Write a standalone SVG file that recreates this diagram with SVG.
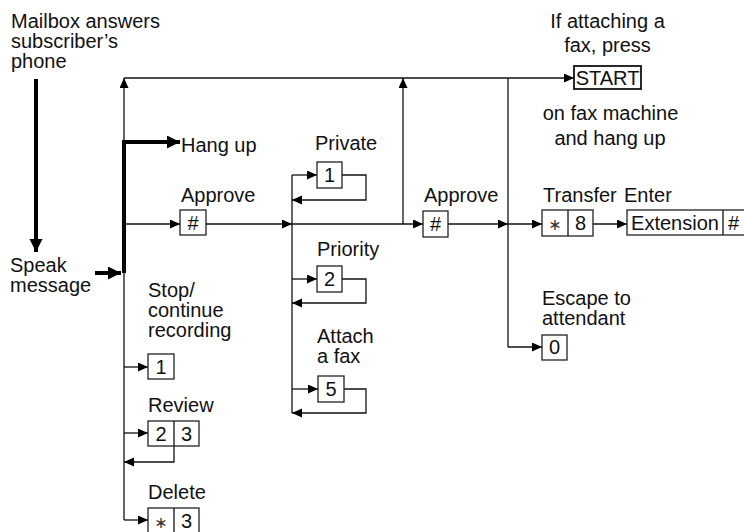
<svg xmlns="http://www.w3.org/2000/svg" width="744" height="532" viewBox="0 0 744 532">
<style>
text{font-family:"Liberation Sans",Arial,"DejaVu Sans",sans-serif;font-size:20px;fill:#111}
.c{text-anchor:middle}
.ast{font-family:"DejaVu Sans",sans-serif;font-size:16px;fill:#333}
.box{fill:#fff;stroke:#222;stroke-width:1.3}
.ln{fill:none;stroke:#111;stroke-width:1.3}
.th{fill:none;stroke:#000;stroke-width:4}
.ar{marker-end:url(#a)}
.at{marker-end:url(#ta)}
</style>
<defs>
<marker id="a" markerUnits="userSpaceOnUse" markerWidth="11" markerHeight="10" refX="10" refY="4.5" orient="auto"><path d="M0,0 L10,4.5 L0,9 z" fill="#000"/></marker>
<marker id="ta" markerUnits="userSpaceOnUse" markerWidth="14" markerHeight="14" refX="13" refY="6.5" orient="auto"><path d="M0,0 L13,6.5 L0,13 z" fill="#000"/></marker>
</defs>
<g id="connectors">
<path class="th at" d="M36,79 V252"/>
<path class="th at" d="M95,273 H121"/>
<path class="th" d="M124,273 V142"/>
<path class="th at" d="M122,142 H180"/>
<path class="ln ar" d="M124,520 V78"/>
<path class="ln ar" d="M124,78 H574"/>
<path class="ln ar" d="M403,224 V78"/>
<path class="ln" d="M508,78 V347"/>
<path class="ln ar" d="M124,224 H180"/>
<path class="ln ar" d="M206,224 H292"/>
<path class="ln ar" d="M292,224 H423"/>
<path class="ln ar" d="M448,224 H508"/>
<path class="ln ar" d="M508,224 H542"/>
<path class="ln ar" d="M593,224 H627"/>
<path class="ln" d="M292,175 V413"/>
<path class="ln ar" d="M292,175 H317"/>
<path class="ln ar" d="M342,175 H366 V200 H292"/>
<path class="ln ar" d="M292,279 H317"/>
<path class="ln ar" d="M342,279 H366 V303 H292"/>
<path class="ln ar" d="M292,389 H318"/>
<path class="ln ar" d="M344,389 H366 V413 H292"/>
<path class="ln ar" d="M508,347 H542"/>
<path class="ln ar" d="M124,367 H148"/>
<path class="ln ar" d="M124,433 H148"/>
<path class="ln ar" d="M174,446 V462 H124"/>
<path class="ln ar" d="M124,520 H148"/>
</g>
<g id="start-label">
<text x="11" y="28">Mailbox answers</text>
<text x="11" y="48">subscriber’s</text>
<text x="11" y="68">phone</text>
</g>
<g id="speak"><text x="10" y="272">Speak</text><text x="10" y="292">message</text></g>
<g id="hangup"><text x="181" y="152">Hang up</text></g>
<g id="approve1"><text x="181" y="202">Approve</text><rect class="box" x="180" y="210" width="26" height="25"/><text class="c" x="193" y="230">#</text></g>
<g id="private"><text x="315" y="150">Private</text><rect class="box" x="317" y="162" width="25" height="26"/><text class="c" x="329.5" y="182">1</text></g>
<g id="priority"><text x="317" y="256">Priority</text><rect class="box" x="317" y="266" width="25" height="26"/><text class="c" x="329.5" y="286">2</text></g>
<g id="attach"><text x="317" y="343">Attach</text><text x="317" y="363">a fax</text><rect class="box" x="318" y="376" width="26" height="26"/><text class="c" x="331" y="396">5</text></g>
<g id="approve2"><text x="424" y="202">Approve</text><rect class="box" x="423" y="211" width="25" height="26"/><text class="c" x="435.5" y="231">#</text></g>
<g id="fax">
<text class="c" x="607.5" y="28">If attaching a</text>
<text class="c" x="607.5" y="52">fax, press</text>
<rect x="574" y="66" width="67" height="23" fill="#fff" stroke="#111" stroke-width="1.8"/>
<text class="c" x="607.5" y="85">START</text>
<text class="c" x="610.5" y="120">on fax machine</text>
<text class="c" x="610" y="145">and hang up</text>
</g>
<g id="transfer"><text x="543" y="202">Transfer</text><rect class="box" x="542" y="210" width="51" height="26"/><path class="ln" d="M568,210 V236"/><text class="c ast" x="555" y="230">∗</text><text class="c" x="580.5" y="230">8</text></g>
<g id="extension"><text x="624" y="202">Enter</text><rect class="box" x="627" y="210" width="123" height="25"/><path class="ln" d="M723,210 V235"/><text class="c" x="675" y="230">Extension</text><text x="728" y="230">#</text></g>
<g id="escape"><text x="542" y="305">Escape to</text><text x="542" y="325">attendant</text><rect class="box" x="542" y="335" width="25" height="25"/><text class="c" x="554.5" y="354">0</text></g>
<g id="stop"><text x="148" y="297">Stop/</text><text x="148" y="317">continue</text><text x="148" y="337">recording</text><rect class="box" x="148" y="354" width="26" height="25"/><text class="c" x="161" y="374">1</text></g>
<g id="review"><text x="148" y="412">Review</text><rect class="box" x="148" y="421" width="51" height="25"/><path class="ln" d="M174,421 V446"/><text class="c" x="161" y="441">2</text><text class="c" x="186.5" y="441">3</text></g>
<g id="delete"><text x="148" y="499">Delete</text><rect class="box" x="148" y="508" width="51" height="30"/><path class="ln" d="M174,508 V538"/><text class="c ast" x="161" y="528">∗</text><text class="c" x="186.5" y="528">3</text></g>
</svg>
